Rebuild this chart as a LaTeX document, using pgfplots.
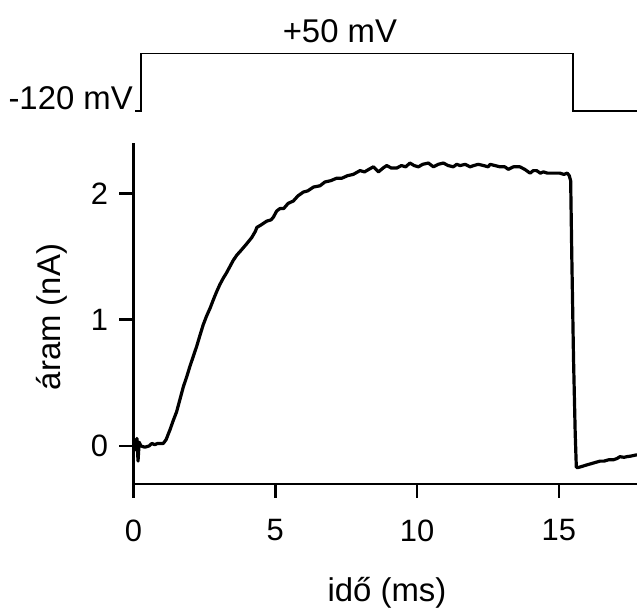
\documentclass[border=0pt]{standalone}
\usepackage{fontspec}
\setmainfont{Liberation Sans}
\usepackage{pgfplots}
\pgfplotsset{compat=1.18}
\newcommand{\lbl}{\fontsize{33}{38}\selectfont}
\newcommand{\tlbl}{\fontsize{31}{36}\selectfont}
\begin{document}
\begin{tikzpicture}
\begin{axis}[
  scale only axis, width=503.5bp, height=341bp,
  xmin=0, xmax=17.76, ymin=-0.301, ymax=2.399,
  axis x line*=bottom, axis y line*=left,
  axis line style={line width=2.5bp, black},
  xtick={0,5,10,15}, ytick={0,1,2},
  tick align=outside,
  major tick length=14bp,
  major tick style={line width=2.5bp, black},
  /pgf/number format/assume math mode=true,
  tick label style={font=\tlbl},
  xticklabel style={yshift=-18bp},
  yticklabel style={xshift=-8bp},
  clip=false,
]
\addplot[black, line width=3.2bp, line join=round] coordinates {
(0.00,0.00) (0.04,0.05) (0.08,-0.03) (0.12,0.06) (0.16,-0.12) (0.20,0.03) (0.26,0.00) (0.40,-0.01) (0.55,0.00) (0.65,0.02) (0.75,0.01) (0.85,0.02) (0.95,0.02) (1.05,0.02) (1.15,0.05) (1.29,0.13) (1.40,0.20) (1.52,0.27) (1.64,0.37) (1.76,0.47) (1.88,0.55) (1.99,0.63) (2.11,0.71) (2.23,0.79) (2.35,0.88) (2.46,0.96) (2.58,1.03) (2.70,1.09) (2.82,1.16) (2.93,1.22) (3.05,1.28) (3.17,1.33) (3.28,1.37) (3.40,1.42) (3.52,1.47) (3.64,1.51) (3.80,1.55) (3.99,1.60) (4.17,1.65) (4.30,1.70) (4.35,1.73) (4.50,1.75) (4.70,1.78) (4.85,1.79) (4.93,1.81) (5.05,1.86) (5.17,1.88) (5.30,1.88) (5.45,1.92) (5.64,1.94) (5.80,1.98) (5.99,2.01) (6.15,2.02) (6.35,2.05) (6.58,2.06) (6.75,2.09) (6.95,2.10) (7.17,2.12) (7.35,2.12) (7.55,2.14) (7.75,2.15) (7.99,2.18) (8.15,2.17) (8.30,2.19) (8.46,2.21) (8.64,2.17) (8.80,2.20) (8.93,2.22) (9.10,2.20) (9.28,2.20) (9.45,2.22) (9.60,2.21) (9.75,2.24) (9.90,2.22) (10.05,2.21) (10.20,2.23) (10.40,2.24) (10.58,2.21) (10.75,2.23) (10.93,2.24) (11.10,2.22) (11.28,2.21) (11.40,2.23) (11.52,2.22) (11.70,2.23) (11.87,2.21) (12.00,2.22) (12.16,2.23) (12.35,2.22) (12.51,2.21) (12.58,2.23) (12.75,2.22) (12.93,2.21) (13.10,2.21) (13.22,2.19) (13.40,2.21) (13.63,2.21) (13.80,2.19) (13.99,2.16) (14.10,2.18) (14.22,2.18) (14.35,2.16) (14.46,2.17) (14.60,2.16) (14.75,2.16) (14.90,2.16) (15.04,2.16) (15.18,2.15) (15.30,2.16) (15.37,2.14) (15.42,2.10) (15.46,1.50) (15.52,0.70) (15.58,0.10) (15.62,-0.17) (15.70,-0.17) (15.85,-0.16) (15.99,-0.15) (16.15,-0.14) (16.30,-0.13) (16.46,-0.12) (16.60,-0.12) (16.75,-0.11) (16.92,-0.11) (17.05,-0.10) (17.16,-0.085) (17.30,-0.09) (17.40,-0.085) (17.55,-0.08) (17.76,-0.07)
};
\addplot[black, line width=1.5bp, line join=miter] coordinates {
(0.053,2.652) (0.265,2.652) (0.265,3.108) (15.51,3.108) (15.51,2.652) (17.76,2.652)
};
\node[font=\lbl] at (axis cs:7.28,3.286) {+50 mV};
\node[font=\lbl, anchor=base east, inner sep=0pt] at (axis cs:-0.018,2.660) {-120 mV};
\node[font=\lbl] at (axis cs:8.94,-1.160) {idő (ms)};
\node[font=\lbl, rotate=90] at (axis cs:-2.875,1.021) {áram (nA)};
\coordinate (bbsw) at (axis cs:-4.709,-1.2985);
\coordinate (bbne) at (axis cs:17.760,3.531);
\end{axis}
\pgfresetboundingbox
\useasboundingbox (bbsw) rectangle (bbne);
\end{tikzpicture}
\end{document}
